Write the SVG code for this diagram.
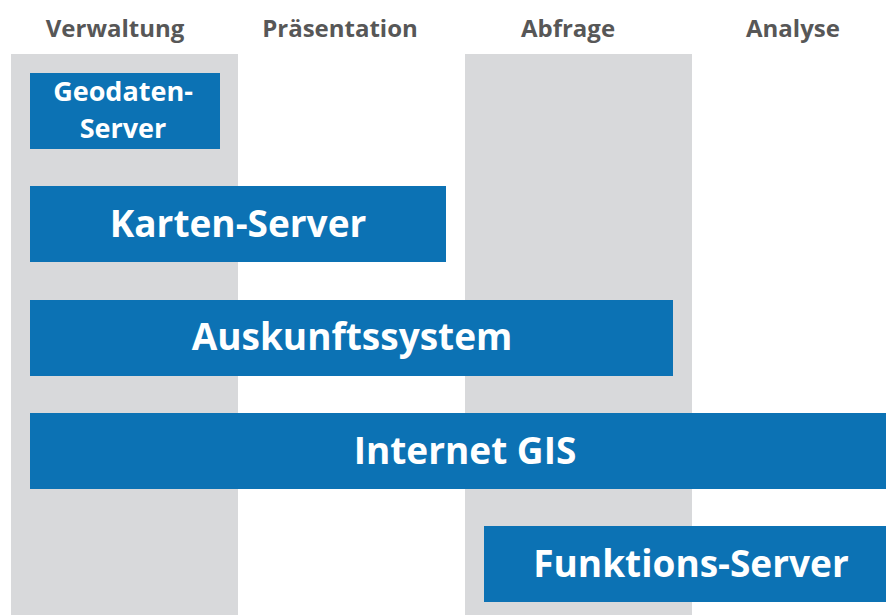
<svg xmlns="http://www.w3.org/2000/svg" width="886" height="615" viewBox="0 0 886 615">
  <style>
    .col { fill: #d8d9db; }
    .head { font-family: "Open Sans", "Liberation Sans", sans-serif; font-weight: 700; font-size: 24px; fill: #575757; text-anchor: middle; }
    .box { fill: #0c72b4; }
    .lbl { font-family: "Open Sans", "Liberation Sans", sans-serif; font-weight: 700; fill: #ffffff; text-anchor: middle; }
  </style>
  <rect width="886" height="615" fill="#ffffff"/>
  <!-- column bands -->
  <rect class="col" x="11" y="54" width="227" height="561"/>
  <rect class="col" x="465" y="54" width="227" height="561"/>
  <!-- column headings -->
  <text class="head" x="115" y="37">Verwaltung</text>
  <text class="head" x="340" y="37">Präsentation</text>
  <text class="head" x="568" y="37">Abfrage</text>
  <text class="head" x="793" y="37">Analyse</text>
  <g id="connectors"></g>
  <g id="geodaten-server">
    <rect class="box" x="30" y="73" width="190" height="76"/>
    <text class="lbl" x="123" y="101" font-size="27">Geodaten-</text>
    <text class="lbl" x="123" y="138" font-size="27">Server</text>
  </g>
  <g id="karten-server">
    <rect class="box" x="30" y="186" width="416" height="76"/>
    <text class="lbl" x="238" y="237" font-size="37">Karten-Server</text>
  </g>
  <g id="auskunftssystem">
    <rect class="box" x="30" y="300" width="643" height="76"/>
    <text class="lbl" x="352" y="350" font-size="37">Auskunftssystem</text>
  </g>
  <g id="internet-gis">
    <rect class="box" x="30" y="413" width="856" height="76"/>
    <text class="lbl" x="465" y="464" font-size="37">Internet GIS</text>
  </g>
  <g id="funktions-server">
    <rect class="box" x="484" y="526" width="402" height="76"/>
    <text class="lbl" x="691" y="577" font-size="37">Funktions-Server</text>
  </g>
</svg>
